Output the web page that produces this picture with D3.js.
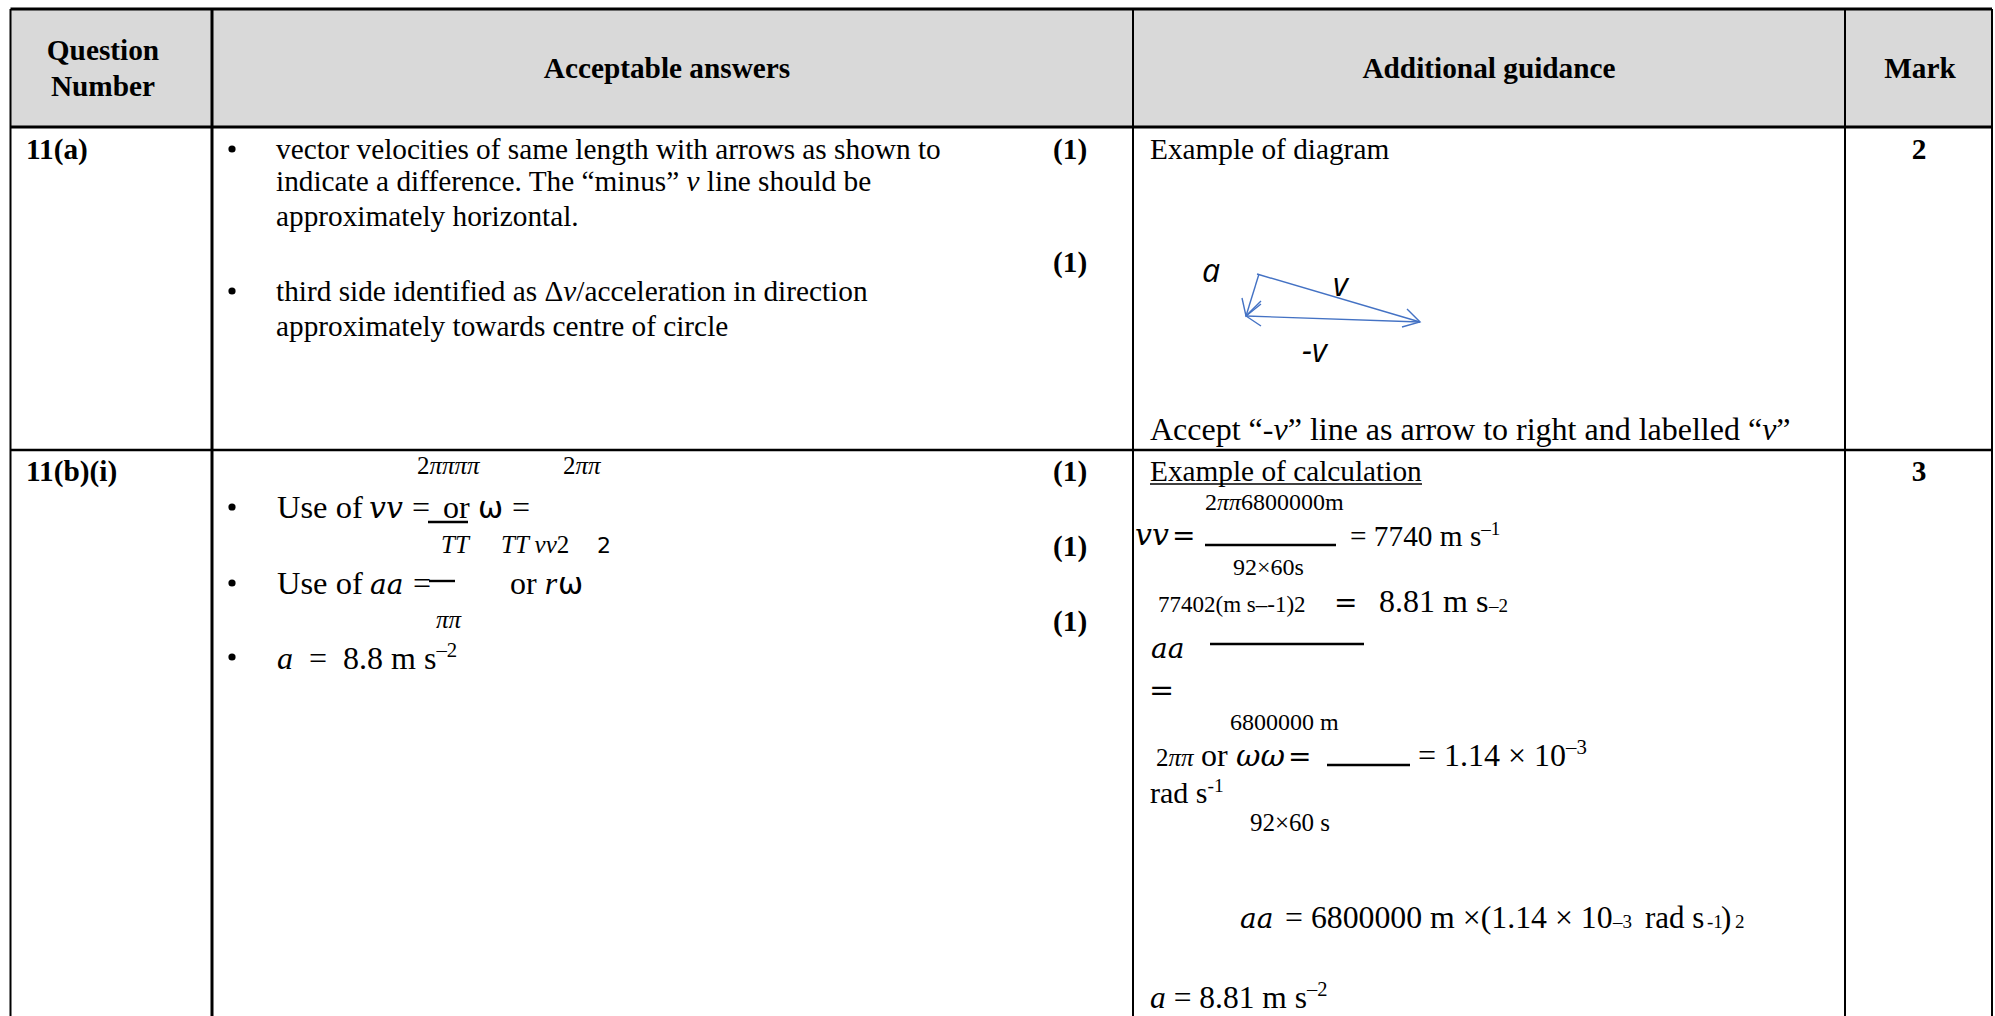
<!DOCTYPE html>
<html>
<head>
<meta charset="utf-8">
<script src="https://cdn.jsdelivr.net/npm/d3@7"></script>
<style>
html, body { margin: 0; padding: 0; background: #fff; overflow: hidden; }
text { white-space: pre; fill: #000; }
</style>
</head>
<body>
<svg id="table" width="1995" height="1016"></svg>
<script>
// table content, markup: _x_ italic, ^x^ superscript
const columns = ['question', 'answers', 'guidance', 'mark', 'edge'];
const headers = ['Acceptable answers', 'Additional guidance', 'Mark'];
const questionHeader = ['Question', 'Number'];
const questionNumbers = ['11(a)', '11(b)(i)'];
const marks = ['2', '3'];
const answerMarks = ['(1)', '(1)', '(1)', '(1)', '(1)'];

const answersA = [
    'vector velocities of same length with arrows as shown to',
    'indicate a difference. The “minus” _v_ line should be',
    'approximately horizontal.',
    'third side identified as Δ_v_/acceleration in direction',
    'approximately towards centre of circle'
];
const guidanceA = ['Example of diagram', 'Accept “-_v_” line as arrow to right and labelled “_v_”'];
const diagramLabels = ['a', 'v', '-v'];

// diagram strokes, in diagram units
const vectorV = [[11, 0], [174, 48]];
const vectorMinusV = [[174, 48], [0, 42]];
const vectorA = [[13, 0], [0, 42]];
const headRight = [[161, 35], [174, 48], [156, 53]];
const headLeft = [[15, 27], [0, 42], [15, 52]];
const headA = [[-4, 24], [0, 42], [15, 30]];

const answersB = [
    '2_ππππ_', '2_ππ_',
    'Use of', 'vv', '=', 'or', 'ω', '=',
    '_TT_', '_TT vv_2', '2',
    'Use of', 'aa', '=', 'or _r_', 'ω',
    '_ππ_',
    '_a_  =  8.8 m s^–2^'
];
const guidanceB = [
    'Example of calculation',
    '2_ππ_6800000m',
    'vv', '=', '= 7740 m s^–1^',
    '92×60s',
    '77402(m s–-1)2', '=', '8.81 m s',  '–2',
    'aa', '=',
    '6800000 m',
    '2_ππ_', 'or', 'ωω', '=', '= 1.14 × 10^–3^',
    'rad s^-1^',
    '92×60 s',
    'aa', '= 6800000 m ×(1.14 × 10', '–3', 'rad s', '-1', ')', '2',
    '_a_ = 8.81 m s^–2^'
];

const serif = '"Liberation Serif", "Times New Roman", serif';
const math = '"DejaVu Serif", serif';
const sans = '"DejaVu Sans", sans-serif';
const handLabel = '"Open Sans", sans-serif';

const svg = d3.select('#table');

const columnX = d3.scaleOrdinal().domain(columns).range([10.5, 212, 1133, 1845, 1992]);
const rowY = d3.scaleOrdinal().domain(['top', 'head', 'a', 'end']).range([9, 127, 450, 1016]);

const grid = svg.append('g');

grid.append('rect')
    .attr('x', columnX('question'))
    .attr('y', rowY('top'))
    .attr('width', columnX('edge') - columnX('question'))
    .attr('height', rowY('head') - rowY('top'))
    .attr('fill', '#d9d9d9');

const ruleLine = (x1, y1, x2, y2, w) => {
    grid.append('line')
        .attr('x1', x1).attr('y1', y1).attr('x2', x2).attr('y2', y2)
        .attr('stroke', '#000').attr('stroke-width', w);
};

ruleLine(columnX('question'), rowY('top'), columnX('edge'), rowY('top'), 3);
ruleLine(columnX('question'), rowY('head'), columnX('edge'), rowY('head'), 3);
ruleLine(columnX('question'), rowY('a'), columnX('edge'), rowY('a'), 2.5);
ruleLine(columnX('question'), rowY('top'), columnX('question'), rowY('end'), 2);
ruleLine(columnX('answers'), rowY('top'), columnX('answers'), rowY('end'), 3);
ruleLine(columnX('guidance'), rowY('top'), columnX('guidance'), rowY('end'), 2);
ruleLine(columnX('mark'), rowY('top'), columnX('mark'), rowY('end'), 2);
ruleLine(columnX('edge'), rowY('top'), columnX('edge'), rowY('end'), 2);

// parses the small markup into tspans
function put(str, x, y, size, opt) {
    opt = opt || {};
    const t = svg.append('text')
        .attr('x', x)
        .attr('y', y)
        .attr('font-family', opt.font || serif)
        .attr('font-size', size)
        .attr('font-weight', opt.bold ? 'bold' : 'normal')
        .attr('font-style', opt.italic ? 'italic' : 'normal')
        .attr('text-anchor', opt.anchor || 'start');
    let back = 0;
    str.split(/(_[^_]+_|\^[^^]+\^)/).filter(s => s.length).forEach(function(part) {
        const s = t.append('tspan');
        if (part[0] === '_') {
            s.attr('font-style', 'italic').text(part.slice(1, -1));
        } else if (part[0] === '^') {
            back = size * 0.38;
            s.attr('font-size', size * 0.65).attr('dy', -back).text(part.slice(1, -1));
            return;
        } else {
            s.text(part);
        }
        if (back) {
            s.attr('dy', back);
            back = 0;
        }
    });
    return t;
}

const bullet = (x, y) => svg.append('circle').attr('cx', x).attr('cy', y).attr('r', 3.6).attr('fill', '#000');

// header
const headSize = 29.3;
put(questionHeader[0], 103, 60, headSize, { bold: true, anchor: 'middle' });
put(questionHeader[1], 103, 96, headSize, { bold: true, anchor: 'middle' });
put(headers[0], 667, 78, headSize, { bold: true, anchor: 'middle' });
put(headers[1], 1489, 78, headSize, { bold: true, anchor: 'middle' });
put(headers[2], 1920, 78, headSize, { bold: true, anchor: 'middle' });

// question numbers and total marks
put(questionNumbers[0], 26, 159, headSize, { bold: true });
put(questionNumbers[1], 26, 481, headSize, { bold: true });
put(marks[0], 1919, 159, headSize, { bold: true, anchor: 'middle' });
put(marks[1], 1919, 481, headSize, { bold: true, anchor: 'middle' });

const answerMarkY = [159, 272, 481, 556, 631];
answerMarks.forEach((m, i) => put(m, 1053, answerMarkY[i], headSize, { bold: true }));

// row 11(a)
const answersAY = [159, 191, 226, 301, 336];
answersA.forEach((s, i) => put(s, 276, answersAY[i], 29.3));
bullet(232, 149);
bullet(232, 291);

put(guidanceA[0], 1150, 159, 29.3);
put(guidanceA[1], 1150, 440, 32);

// diagram
const diagX = d3.scaleLinear().domain([0, 174]).range([1246, 1420]);
const diagY = d3.scaleLinear().domain([0, 48]).range([274, 322]);
const strokePath = d3.line().x(d => diagX(d[0])).y(d => diagY(d[1]));
const diagram = svg.append('g').attr('fill', 'none').attr('stroke', '#4472c4').attr('stroke-width', 1.4);
[vectorV, vectorMinusV, vectorA, headRight, headLeft, headA].forEach(function(pts) {
    diagram.append('path').attr('d', strokePath(pts));
});
const labelFont = { font: handLabel, italic: true };
put(diagramLabels[0], 1202, 282, 32, labelFont);
put(diagramLabels[1], 1333, 296, 32, labelFont);
put(diagramLabels[2], 1302, 362, 32, labelFont);

// row 11(b)(i) answers
const answersBAt = [
    [417, 474, 25, serif], [563, 474, 25, serif],
    [277, 518, 32.5, serif], [369, 518, 30, math, true], [412, 518, 32, serif], [443, 518, 32, serif], [478, 518, 30, sans], [512, 518, 32, serif],
    [441, 553, 25, serif], [501, 553, 25, serif], [597, 553, 22, sans],
    [277, 594, 32.5, serif], [370, 594, 28, math, true], [413, 594, 32, serif], [510, 594, 32, serif], [558, 594, 30, sans],
    [436, 628, 25, serif],
    [277, 669, 32, serif]
];
answersB.forEach(function(s, i) {
    const a = answersBAt[i];
    put(s, a[0], a[1], a[2], { font: a[3], italic: a[4] });
});
bullet(232, 507);
bullet(232, 583);
bullet(232, 657);

// fraction bars in the answers column and in the guidance column
const fractionBars = [
    [428, 522, 40], [429, 581, 26],
    [1205, 545, 131], [1210, 644, 154], [1327, 765, 83]
];
fractionBars.forEach(b => ruleLine(b[0], b[1], b[0] + b[2], b[1], 2.4));

// row 11(b)(i) guidance
const guidanceBAt = [
    [1150, 481, 29.3, serif],
    [1205, 510, 24, serif],
    [1135, 545, 30, math, true], [1172, 545, 28, math], [1350, 546, 29.3, serif],
    [1233, 575, 24, serif],
    [1158, 612, 23, serif], [1334, 612, 28, math], [1379, 612, 32, serif], [1489, 612, 19, serif],
    [1151, 658, 28, math, true], [1149, 700, 30, math],
    [1230, 730, 24, serif],
    [1156, 766, 25, serif], [1201, 766, 32, serif], [1236, 766, 30, math, true], [1288, 766, 28, math], [1418, 766, 32, serif],
    [1150, 803, 30, serif],
    [1250, 831, 25, serif],
    [1240, 928, 28, math, true], [1285, 928, 31.8, serif], [1613, 928, 19, serif], [1645, 928, 31, serif], [1707, 928, 19, serif], [1721, 928, 31, serif], [1735, 928, 19, serif],
    [1150, 1008, 31.5, serif]
];
guidanceB.forEach(function(s, i) {
    const a = guidanceBAt[i];
    put(s, a[0], a[1], a[2], { font: a[3], italic: a[4] });
});

// underline of the calculation heading
ruleLine(1150, 484, 1422, 484, 1.5);
</script>
</body>
</html>
